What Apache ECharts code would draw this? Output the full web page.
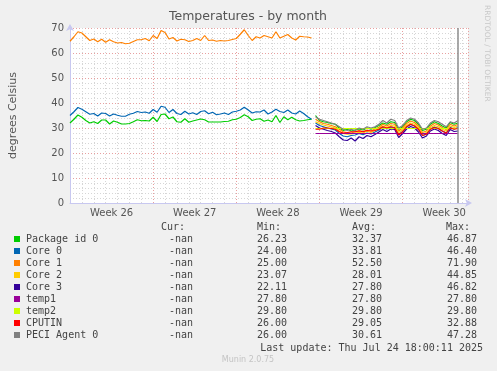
<!DOCTYPE html>
<html><head><meta charset="utf-8">
<script src="https://cdn.jsdelivr.net/npm/echarts@6/dist/echarts.min.js"></script>
<style>html,body{margin:0;padding:0;background:#f0f0f0;}#c{width:497px;height:371px;}</style>
</head><body><div id="c"></div>
<script>
// ---- data ----
const title = 'Temperatures - by month';
const yTitle = 'degrees Celsius';
const weekLabels = ['Week 26', 'Week 27', 'Week 28', 'Week 29', 'Week 30'];
const weekCenters = [84, 252, 420, 588, 756];          // hours since start of week 26
const yTicks = [0, 10, 20, 30, 40, 50, 60, 70];
const nowHour = 784;
const seg1Start = 0, seg2Start = 496, stepHours = 8;

const names = ['Package id 0', 'Core 0', 'Core 1', 'Core 2', 'Core 3', 'temp1', 'temp2', 'CPUTIN', 'PECI Agent 0'];
const colors = ['#00CC00', '#0066B3', '#FF8000', '#FFCC00', '#330099', '#990099', '#CCFF00', '#FF0000', '#808080'];
const legendCur = ['-nan', '-nan', '-nan', '-nan', '-nan', '-nan', '-nan', '-nan', '-nan'];
const legendMin = ['26.23', '24.00', '25.00', '23.07', '22.11', '27.80', '29.80', '26.00', '26.00'];
const legendAvg = ['32.37', '33.81', '52.50', '28.01', '27.80', '27.80', '29.80', '29.05', '30.61'];
const legendMax = ['46.87', '46.40', '71.90', '44.85', '46.82', '27.80', '29.80', '32.88', '47.28'];
const lastUpdate = 'Last update: Thu Jul 24 18:00:11 2025';
const footer = 'Munin 2.0.75';
const sideText = 'RRDTOOL / TOBI OETIKER';

// first period (only 3 sensors)
const pkgSeg1 = [32,33.5,35.2,34.3,33,32,32.5,31.8,33.2,33.2, 31.6,32.8,32.3,31.6,31.6,31.8,32.5,33.3,32.9,33, 32.8,34.3,32.6,35.4,35.6,33.7,34.4,32.5,32.3,33.7, 32.3,32.8,33.2,33.6,33.3,32.4,32.4,32.4,32.4,32.6, 32.7,33.3,33.5,34.2,35.3,34.5,33,33.5,33.7,32.7, 33.2,32.5,35,32.2,34.5,33.3,34.3,33.3,32.8,33, 33.3,33.5];
const core0Seg1 = [35,36.5,38.2,37.5,36.5,35.5,35.8,34.8,36,35.8, 34.8,35.6,35.1,34.7,34.7,35.5,35.9,36.6,36.2,36.4, 35.9,37.4,36.3,38.7,38.3,36.2,37.4,35.8,35.4,36.7, 35.6,36.1,35.4,36.6,36.9,35.7,36.3,35.3,35.6,36, 35.4,36.4,36.7,37.2,38.3,37.2,36,36.5,36.4,37.2, 35.6,36.4,37.5,36.6,36.2,37.2,36,35.6,36.8,35.8, 34.5,33.5];
const core1Seg1 = [64.7,66.5,68.5,68,66.5,65,65.6,64.5,65.5,64.3, 65.3,64.5,64,64.2,63.7,63.9,64.6,65.3,65.3,65.8, 64.9,67,65.8,69,68.2,65.6,66.2,64.8,65.5,65.3, 64.6,65,65.8,65,67,65,65.2,64.7,65,64.8, 65,65.4,65.8,67.5,69.3,67,65,66.5,66,67, 66.5,66,68.5,66,66.7,67.4,66,65.2,66.7,66.5, 66.4,66];

// second period (all sensors)
const pkgSeg2 = [35,33,32.5,32.2,31.8,31.5,30,29,29.5,28.8, 29.2,29.6,29.2,30,29.5,30.2,31,32,31.5,32.5, 32.2,29.5,30.5,32.5,33.5,33,31.5,29,29.5,31.5, 32.5,31.8,30.8,30,32.2,31.5,32];
const core0Seg2 = [32,31,30.5,30,29.6,29.2,27.8,26.8,26.5,27, 27.2,27.8,27.3,28,27.6,28.4,29.2,30.2,29.6,30.4, 30.2,27.4,28.6,30.4,31.4,30.8,29.4,27,27.6,29.6, 30.4,29.8,28.8,28,30.2,29.6,30.2];
const core1Seg2 = [33.5,32.5,31.8,31.5,31,30.5,29.5,28.5,28.2,28, 28.5,29,28.6,29.2,28.8,29.6,30.3,31.5,30.8,31.8, 31.5,28.8,30,31.8,32.8,32.2,30.8,28.2,28.8,30.8, 31.8,31.2,30.2,29.4,31.5,30.8,31.5];
const core2Seg2 = [32.5,31.8,31.2,30.8,30.4,30,28.8,27.8,27.5,27.6, 28,28.3,28,28.7,28.2,29,29.8,30.8,30.2,31, 30.8,28.2,29.3,31,32,31.5,30,27.6,28.2,30.2, 31,30.5,29.5,28.8,30.8,30.2,30.8];
const core3Seg2 = [31,30,29.5,29,28.6,28,26.5,25.2,25,26, 24.8,26.5,25.8,27,26.5,27.4,28.4,29.4,28.6,29.6, 29.4,26.2,27.8,29.6,30.6,30,28.4,26,26.8,28.8, 29.6,29,27.8,27,29.4,28.6,28.8];
const temp1Seg2 = [27.8, 27.8];
const temp2Seg2 = [29.8, 29.8];
const cputinSeg2 = [29.5,29.5,30,30,29.8,29.5,28.5,28,28.2,28.5, 28.5,28.8,28.5,29,28.8,29,29.5,30.5,30,30.5, 30,27.2,28.5,30.5,31.5,30.8,29.5,27,27.5,29.5, 30.2,29.8,28.8,28,30,29.5,29.8];
const peciSeg2 = [34.5,33.5,33,32.5,32,31.5,30.5,29.5,29,29.5, 29,30,29.5,30.5,30,30.5,31.5,33,32,33.5, 33,30,31,33,34,33.5,32,29.5,30,32, 33,32.5,31.5,30.5,32.5,32,33];

// ---- build ----
function pairs(start, vals, step) { return vals.map((v, i) => [start + i * step, v]); }
function seg2(vals) {
  const step = vals.length > 1 ? (nowHour - seg2Start) / (vals.length - 1) : stepHours;
  return pairs(seg2Start, vals, step);
}
const gapPoint = [(seg1Start + stepHours * (pkgSeg1.length - 1) + seg2Start) / 2, '-'];
const seriesData = [
  pairs(seg1Start, pkgSeg1, stepHours).concat([gapPoint], seg2(pkgSeg2)),
  pairs(seg1Start, core0Seg1, stepHours).concat([gapPoint], seg2(core0Seg2)),
  pairs(seg1Start, core1Seg1, stepHours).concat([gapPoint], seg2(core1Seg2)),
  seg2(core2Seg2), seg2(core3Seg2), seg2(temp1Seg2), seg2(temp2Seg2), seg2(cputinSeg2), seg2(peciSeg2)
];

const series = names.map((n, i) => ({
  name: n, type: 'line', data: seriesData[i], showSymbol: false, symbol: 'none',
  lineStyle: { color: colors[i], width: 1.2 }, itemStyle: { color: colors[i] },
  connectNulls: false, silent: true
}));
series[series.length - 1].markLine = {
  silent: true, symbol: 'none', label: { show: false },
  lineStyle: { color: '#8c8c8c', width: 1.5, type: 'solid' },
  data: [{ xAxis: nowHour }]
};

const mono = 'DejaVu Sans Mono';
const textColor = '#444';
const graphic = [];
const rowY0 = 239, rowH = 12;
const colName = 26, colCur = 193, colMin = 287, colAvg = 382, colMax = 477;
function txt(s, x, y, align, extra) {
  return Object.assign({ type: 'text', x: x, y: y, silent: true,
    style: { text: s, fill: textColor, font: '10px "' + mono + '"', align: align, verticalAlign: 'middle' } }, extra || {});
}
graphic.push(txt('Cur:', 185, 227, 'right'));
graphic.push(txt('Min:', 281, 227, 'right'));
graphic.push(txt('Avg:', 376, 227, 'right'));
graphic.push(txt('Max:', 470, 227, 'right'));
names.forEach((n, i) => {
  const y = rowY0 + i * rowH;
  graphic.push({ type: 'rect', shape: { x: 14, y: y - 3, width: 6, height: 6 }, style: { fill: colors[i] }, silent: true });
  graphic.push(txt(n, colName, y, 'left'));
  graphic.push(txt(legendCur[i], colCur, y, 'right'));
  graphic.push(txt(legendMin[i], colMin, y, 'right'));
  graphic.push(txt(legendAvg[i], colAvg, y, 'right'));
  graphic.push(txt(legendMax[i], colMax, y, 'right'));
});
graphic.push(txt(lastUpdate, 483, 348, 'right'));
graphic.push({ type: 'text', x: 248, y: 360, silent: true,
  style: { text: footer, fill: '#c4c4c4', font: '8px "DejaVu Sans"', align: 'center', verticalAlign: 'middle' } });
graphic.push({ type: 'text', x: 487, y: 5, rotation: -Math.PI / 2, silent: true,
  style: { text: sideText, fill: '#c8c8c8', font: '7.5px "DejaVu Sans"', align: 'left', verticalAlign: 'middle' } });
graphic.push({ type: 'text', x: 248, y: 17, silent: true,
  style: { text: title, fill: '#555', font: '12.5px "DejaVu Sans"', align: 'center', verticalAlign: 'middle' } });

const chart = echarts.init(document.getElementById('c'), null, { renderer: 'canvas' });
chart.setOption({
  animation: false,
  backgroundColor: '#f0f0f0',
  legend: { show: false },
  tooltip: { show: false },
  grid: { left: 66, right: 29, top: 28, bottom: 168, show: true, backgroundColor: '#ffffff', borderWidth: 0 },
  xAxis: {
    type: 'value', min: 0, max: 804, interval: 168,
    axisLine: { show: true, onZero: false, lineStyle: { color: '#c8c8f0', width: 1 }, symbol: ['none', 'arrow'], symbolSize: [6, 7], symbolOffset: [0, 4] },
    axisTick: { show: false },
    axisLabel: { customValues: weekCenters, formatter: v => weekLabels[weekCenters.indexOf(v)] || '',
      color: '#555', fontSize: 10, fontFamily: 'DejaVu Sans', margin: 5 },
    splitLine: { show: true, lineStyle: { color: '#e8a0a0', type: [1, 2], width: 1 } },
    minorTick: { show: false, splitNumber: 7 },
    minorSplitLine: { show: true, lineStyle: { color: '#d6d6d6', type: [1, 2], width: 1 } }
  },
  yAxis: {
    type: 'value', min: yTicks[0], max: yTicks[yTicks.length - 1], interval: 10,
    name: yTitle, nameLocation: 'middle', nameGap: 51, nameRotate: 90,
    nameTextStyle: { color: '#555', fontSize: 11, fontFamily: 'DejaVu Sans' },
    axisLine: { show: true, onZero: false, lineStyle: { color: '#c8c8f0', width: 1 }, symbol: ['none', 'arrow'], symbolSize: [6, 7], symbolOffset: [0, 4] },
    axisTick: { show: false },
    axisLabel: { color: '#555', fontSize: 10, fontFamily: 'DejaVu Sans', margin: 6 },
    splitLine: { show: true, lineStyle: { color: '#e8a0a0', type: [1, 2], width: 1 } },
    minorTick: { show: false, splitNumber: 5 },
    minorSplitLine: { show: true, lineStyle: { color: '#d6d6d6', type: [1, 2], width: 1 } }
  },
  graphic: graphic,
  series: series
});
</script></body></html>
